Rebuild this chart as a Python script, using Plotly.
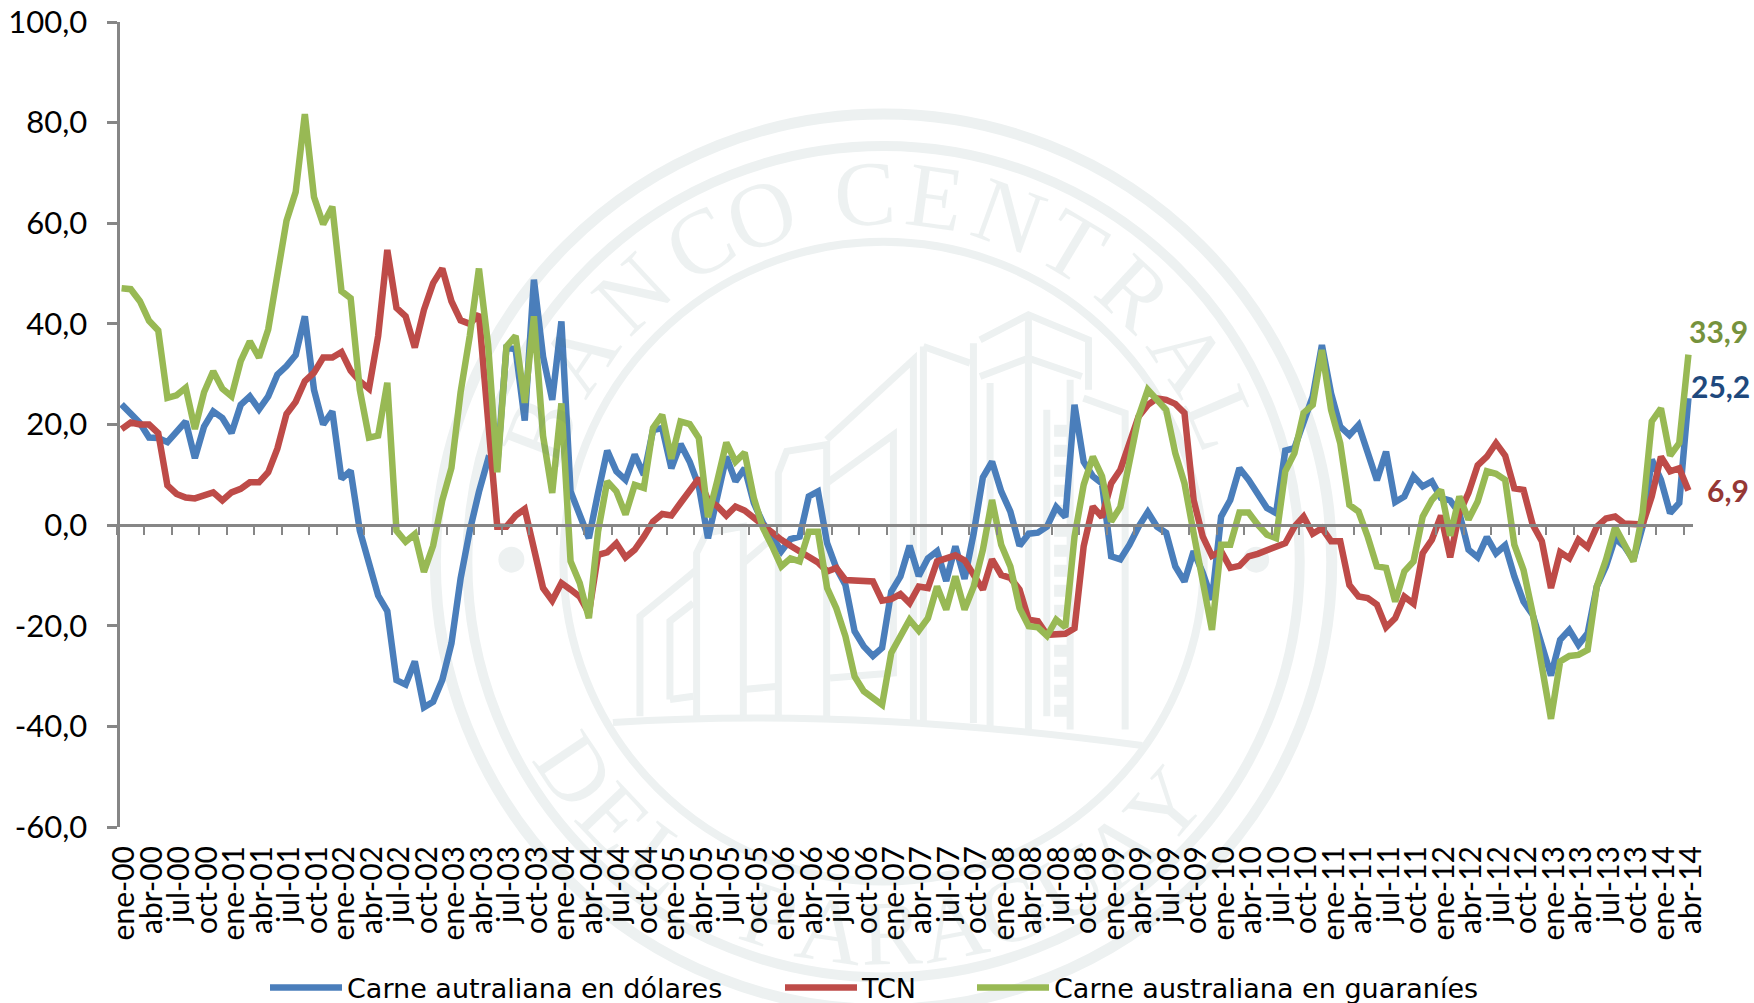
import plotly.graph_objects as go
import math

tick_labels = [
 "ene-00","abr-00","jul-00","oct-00","ene-01","abr-01","jul-01","oct-01",
 "ene-02","abr-02","jul-02","oct-02","ene-03","abr-03","jul-03","oct-03",
 "ene-04","abr-04","jul-04","oct-04","ene-05","abr-05","jul-05","oct-05",
 "ene-06","abr-06","jul-06","oct-06","ene-07","abr-07","jul-07","oct-07",
 "ene-08","abr-08","jul-08","oct-08","ene-09","abr-09","jul-09","oct-09",
 "ene-10","abr-10","jul-10","oct-10","ene-11","abr-11","jul-11","oct-11",
 "ene-12","abr-12","jul-12","oct-12","ene-13","abr-13","jul-13","oct-13",
 "ene-14","abr-14"]
y_ticks = [-60, -40, -20, 0, 20, 40, 60, 80, 100]
y_tick_labels = ["-60,0", "-40,0", "-20,0", "0,0", "20,0", "40,0", "60,0", "80,0", "100,0"]

carne_usd = [
 24.0,22.1,20.3,17.4,17.3,16.5,18.5,20.6,13.3,19.6,22.6,21.3,18.3,23.9,25.6,23.0,25.6,29.9,31.6,33.8,
 41.5,26.9,20.0,22.6,9.2,10.8,-1.1,-7.6,-14.0,-17.1,-30.8,-31.7,-27.1,-36.2,-35.1,-30.8,-23.5,-10.6,-1.1,6.6,
 13.1,12.0,35.2,35.0,20.8,48.8,33.5,24.9,40.5,6.7,2.4,-2.6,6.4,14.8,10.7,9.0,14.0,10.0,18.9,19.3,
 11.3,16.1,12.6,7.7,-2.6,5.0,13.6,8.7,11.3,4.4,0.4,-2.3,-5.2,-2.8,-2.3,5.7,6.7,-3.6,-8.5,-11.9,
 -21.1,-24.1,-26.0,-24.4,-13.2,-10.2,-4.1,-10.1,-6.6,-5.2,-11.1,-4.2,-10.7,-1.6,9.5,12.6,6.7,2.7,-4.1,-1.7,
 -1.5,-0.3,3.6,1.6,23.9,12.6,9.7,8.3,-6.2,-6.8,-3.9,-0.3,2.6,-0.3,-1.5,-8.2,-11.2,-5.2,-9.5,-14.8,
 1.7,5.0,11.3,9.0,6.0,3.4,2.4,14.8,15.3,20.9,25.6,35.8,26.2,19.6,17.9,19.9,14.8,8.9,14.6,4.6,
 5.7,9.7,7.7,8.7,5.4,4.9,2.4,-4.9,-6.4,-2.4,-5.6,-4.0,-10.2,-15.2,-17.8,-24.1,-29.9,-22.8,-20.8,-23.8,
 -21.5,-12.2,-8.2,-2.6,-4.2,-6.9,-0.3,13.0,9.0,2.4,4.4,25.2]

tcn = [
 19.1,20.4,20.0,20.0,18.3,7.9,6.2,5.5,5.3,6.0,6.5,4.9,6.5,7.2,8.5,8.5,10.5,15.2,22.1,24.5,
 28.6,30.3,33.3,33.3,34.4,30.7,28.6,27.1,37.6,54.7,43.2,41.5,35.3,42.8,48.1,51.0,44.5,40.7,40.0,41.9,
 20.4,-0.3,-0.3,1.9,3.2,-5.0,-12.5,-15.0,-11.5,-12.8,-14.2,-17.5,-5.9,-5.4,-3.6,-6.4,-4.9,-2.3,0.7,2.2,
 1.9,4.4,7.0,9.3,5.0,3.8,1.9,3.7,2.9,1.4,0.0,-1.6,-2.9,-4.1,-5.2,-6.4,-7.4,-9.2,-8.5,-10.9,
 -10.9,-11.2,-11.2,-15.0,-14.7,-13.7,-15.5,-12.2,-12.5,-7.2,-6.6,-6.0,-7.0,-9.9,-12.8,-6.8,-9.9,-10.5,-12.8,-18.8,
 -19.1,-21.8,-21.8,-21.6,-20.5,-4.2,3.7,1.6,8.3,11.0,16.3,21.6,23.9,25.2,24.9,24.1,22.3,5.0,-2.3,-6.1,
 -5.2,-8.5,-8.1,-6.2,-5.7,-5.0,-4.6,-3.6,-0.3,1.7,-1.7,-0.6,-3.2,-3.2,-11.9,-14.2,-14.5,-15.8,-20.3,-18.5,
 -14.2,-15.6,-5.6,-2.9,1.9,-6.4,2.4,6.4,11.9,13.6,16.3,13.8,7.3,7.0,0.1,-3.2,-12.5,-5.4,-6.6,-2.9,
 -4.4,-0.3,1.3,1.7,0.3,0.1,0.1,5.7,13.6,10.7,11.3,6.9]

carne_pyg = [
 47.1,46.9,44.5,40.6,38.7,25.3,25.8,27.3,19.1,26.4,30.6,27.1,25.6,32.6,36.5,33.3,38.9,49.7,60.5,66.2,
 81.7,65.2,59.8,63.3,46.5,45.1,26.9,17.4,17.8,28.3,-1.1,-3.3,-1.8,-9.3,-4.1,4.9,11.4,26.4,37.6,51.0,
 35.9,10.5,35.5,37.6,24.3,41.5,17.7,6.4,24.2,-7.2,-11.5,-18.5,-1.3,8.7,6.7,2.1,8.0,7.4,19.3,21.9,
 13.2,20.6,20.1,17.3,1.6,8.7,16.4,12.6,14.4,5.4,-0.6,-4.2,-8.2,-6.6,-7.2,-1.3,-1.3,-12.5,-16.5,-22.1,
 -30.1,-33.0,-34.4,-35.7,-25.4,-22.1,-18.8,-21.0,-18.5,-12.2,-16.8,-10.2,-16.8,-12.2,-4.9,5.0,-3.9,-8.2,-16.5,-20.1,
 -20.3,-22.0,-18.8,-20.3,-2.3,8.0,13.6,9.7,0.7,3.6,12.3,21.6,26.9,24.9,22.9,14.3,8.3,-1.6,-11.2,-20.8,
 -3.9,-3.9,2.5,2.5,0.1,-1.9,-2.6,10.7,14.3,22.3,23.9,34.8,22.9,16.3,4.0,2.7,-2.3,-8.2,-8.5,-15.2,
 -9.2,-7.2,1.7,5.0,7.0,-2.1,5.7,1.1,4.7,10.7,10.2,9.0,-3.9,-8.9,-17.5,-28.1,-38.5,-27.1,-26.0,-25.8,
 -24.8,-12.2,-6.9,-0.4,-3.6,-7.2,2.4,20.6,23.2,13.8,16.3,33.9]

names = ["Carne autraliana en dólares", "TCN", "Carne australiana en guaraníes"]
colors = ["#4A7EBB", "#BE4B48", "#98B954"]
label_colors = ["#1F497D", "#953735", "#76923C"]

W, H = 1754, 1003
L, R, T, B = 117.3, 1692.6, 22.0, 827.5
AX = "#868686"
FONT = "Lato, Carlito, Calibri, sans-serif"
idx = list(range(len(carne_usd)))

def px(x): return (x - L) / (R - L)
def py(y): return (B - y) / (B - T)

fig = go.Figure()
for series, name, color, leg in zip([carne_usd, tcn, carne_pyg], names, colors, ["legend", "legend2", "legend3"]):
    fig.add_trace(go.Scatter(x=idx, y=series, mode="lines", name=name, legend=leg,
                             line=dict(color=color, width=6.5, shape="linear"), hoverinfo="skip"))
# carries the bottom tick labels
fig.add_trace(go.Scatter(x=idx, y=[None] * len(idx), xaxis="x2", mode="lines", showlegend=False, hoverinfo="skip"))

# watermark (seal of the bank), decoration only
SEAL = "#EDF1F1"
CX, CY = 883.5, 562.0
shapes = []
for r, w in [(448, 11), (416, 10), (320, 8)]:
    shapes.append(dict(type="circle", xref="paper", yref="paper", layer="below",
                       x0=px(CX - r), x1=px(CX + r), y0=py(CY + r), y1=py(CY - r),
                       line=dict(color=SEAL, width=w)))
for dx in (511.5, 1256):
    shapes.append(dict(type="circle", xref="paper", yref="paper", layer="below",
                       x0=px(dx - 13), x1=px(dx + 13), y0=py(560 + 13), y1=py(560 - 13),
                       fillcolor=SEAL, line=dict(width=0)))
z2 = [
 [(300,1370),(300,1070),(470,930)],
 [(390,1320),(390,1085),(460,1030)],
 [(390,1320),(460,1310)],
 [(470,1370),(470,880),(500,820),(610,800),(610,1370)],
 [(610,910),(715,820)],
 [(610,1290),(715,1280)],
 [(715,1370),(715,640),(740,575),(860,555),(860,1370)],
 [(860,540),(1120,300),(1120,1390)],
 [(860,670),(1060,525),(1060,1240),(870,1255)],
 [(1150,260),(1150,1390)],
 [(1150,260),(1290,310)],
]
z3 = [
 [(0,180),(145,105),(325,180),(325,330)],
 [(0,290),(145,235),(305,290)],
 [(145,105),(145,1350)],
 [(30,310),(30,1350)],
 [(-20,190),(-20,1330)],
 [(310,355),(435,400),(435,1350)],
 [(270,300),(270,1350)],
 [(200,390),(200,1310)],
]
def add_path(pts, width=7, dash=None):
    d = "M " + " L ".join(f"{px(x):.5f} {py(y):.5f}" for x, y in pts)
    shapes.append(dict(type="path", path=d, xref="paper", yref="paper", layer="below",
                       line=dict(color=SEAL, width=width, dash=dash or "solid")))
for seg in z2:
    add_path([(540 + x / 3, 260 + y / 3) for x, y in seg])
for seg in z3:
    add_path([(980 + x / 3, 280 + y / 3) for x, y in seg])
add_path([(1062, 425), (1062, 720)], width=16, dash="12px,8px")
shapes.append(dict(type="path", xref="paper", yref="paper", layer="below",
                   path=f"M {px(613):.5f} {py(723):.5f} Q {px(850):.5f} {py(707):.5f} {px(1142):.5f} {py(746):.5f}",
                   line=dict(color=SEAL, width=7)))

annotations = []
WM = "rgba(75,115,115,0.10)"
def wm_letter(ch, x, y, ang):
    annotations.append(dict(text=ch, x=px(x), y=py(y), xref="paper", yref="paper", showarrow=False,
                            xanchor="center", yanchor="middle", textangle=ang,
                            font=dict(family="Liberation Serif", size=92, color=WM)))
top_letters = ["B", "A", "N", "C", "O", "C", "E", "N", "T", "R", "A", "L"]
top_angles = [-69, -56, -43, -30, -19.5, -3, 8, 20, 31, 43, 56, 67]
for ch, a in zip(top_letters, top_angles):
    wm_letter(ch, CX + 368 * math.sin(math.radians(a)), CY - 368 * math.cos(math.radians(a)), a)
bot = "DEL PARAGUAY"
for i, ch in enumerate(bot):
    if ch == " ":
        continue
    b = -56 + i * 105 / (len(bot) - 1)
    wm_letter(ch, CX + 372 * math.sin(math.radians(b)), CY + 372 * math.cos(math.radians(b)), -b)

# end-of-line value labels
for series, col, xs, ys in [(carne_pyg, label_colors[2], 30, 24),
                            (carne_usd, label_colors[0], 32, 12),
                            (tcn, label_colors[1], 40, 0)]:
    annotations.append(dict(text=f"{series[-1]:.1f}".replace(".", ","), x=idx[-1], y=series[-1],
                            xref="x", yref="y", showarrow=False, xshift=xs, yshift=ys,
                            xanchor="center", yanchor="middle",
                            font=dict(family=FONT, size=30, color=col, weight="bold")))

def legend_cfg(x):
    return dict(x=x / W, y=(H - 988) / H, xref="container", yref="container", xanchor="left", yanchor="middle",
                orientation="h", bgcolor="rgba(0,0,0,0)", borderwidth=0, itemwidth=72,
                font=dict(family="DejaVu Sans", size=27, color="#000000"), tracegroupgap=0)

fig.update_layout(
    width=W, height=H, autosize=False,
    margin=dict(l=L, r=W - R, t=T, b=H - B, pad=0, autoexpand=False),
    paper_bgcolor="#FFFFFF", plot_bgcolor="rgba(0,0,0,0)",
    font=dict(family=FONT, size=28, color="#000000"),
    shapes=shapes, annotations=annotations,
    legend=legend_cfg(265), legend2=legend_cfg(780), legend3=legend_cfg(972),
    xaxis=dict(range=[-0.5, 171.5], anchor="free", position=py(525.4), showgrid=False, zeroline=False,
               showline=True, linecolor=AX, linewidth=2.5,
               tickmode="array", tickvals=[i - 0.5 for i in idx[::3]], ticktext=[""] * len(idx[::3]),
               ticks="outside", ticklen=8, tickwidth=2, tickcolor=AX, showticklabels=False),
    xaxis2=dict(range=[-0.5, 171.5], overlaying="x", side="bottom", anchor="y", showgrid=False, zeroline=False,
                showline=False, ticks="", tickmode="array", tickvals=idx[::3], ticktext=tick_labels,
                tickangle=-90, ticklabelstandoff=12, ticklabelshift=3,
                tickfont=dict(family=FONT, size=30, color="#000000")),
    yaxis=dict(range=[-60, 100], anchor="free", position=0.5 / (R - L), showgrid=False, zeroline=False,
               showline=True, linecolor=AX, linewidth=3,
               tickmode="array", tickvals=y_ticks, ticktext=y_tick_labels,
               ticks="outside", ticklen=10, tickwidth=2.5, tickcolor=AX, ticklabelstandoff=13,
               tickfont=dict(family=FONT, size=31, color="#000000")),
)
fig.write_html("out.html", config=dict(displayModeBar=False),
               post_script="document.body.style.margin='0';document.documentElement.style.overflow='hidden';")
